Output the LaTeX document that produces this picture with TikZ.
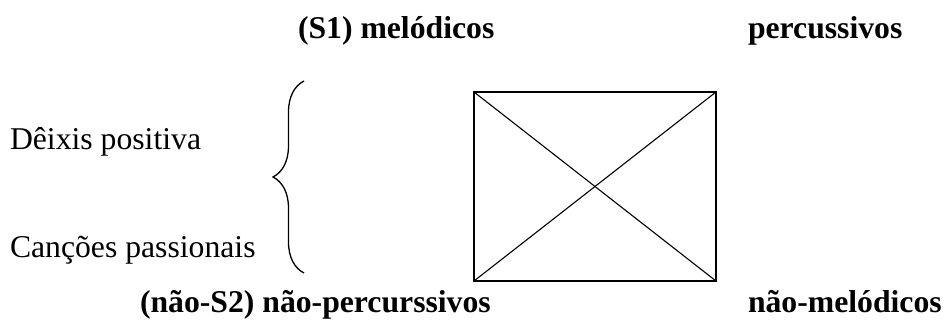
\documentclass[tikz,border=0pt]{standalone}
\usepackage{fontspec}
\setmainfont{Liberation Serif}
\usepackage{tikz}
\usetikzlibrary{positioning,decorations.pathreplacing}

\begin{document}
\begin{tikzpicture}[
  x=1pt, y=-1pt,
  every node/.style={inner sep=0pt, outer sep=0pt, font=\fontsize{31.7}{38}\selectfont},
  label/.style={anchor=base west},
  axis/.style={anchor=base west, font=\fontsize{31.7}{38}\selectfont\bfseries},
  square/.style={
    draw, line width=1.4pt, rectangle,
    minimum width=242pt, minimum height=189pt
  },
  diagonal/.style={line width=1.1pt},
  curly/.style={decorate, decoration={brace, amplitude=31pt}, line width=1.3pt}
]
\useasboundingbox (0,0) rectangle (946,323);

% --- Top terms ---
\node[axis] (s1) at (298,39) {(S1) melódicos};
\node[axis] (perc) at (748,39) {percussivos};

% --- Left side ---
\node[label] (deixis) at (10,150) {Dêixis positiva};
\node[label] (cancoes) at (10,258) {Canções passionais};

\coordinate (braceBot) at (304,273);
\coordinate (braceTop) at (304,81);
\draw[curly] (braceBot) -- (braceTop);

% --- Square ---
\node[square] (box) at (595,186.5) {};
\draw[diagonal] (box.north west) -- (box.south east);
\draw[diagonal] (box.north east) -- (box.south west);

% --- Bottom terms ---
\node[axis] (s2) at (140,313) {(não-S2) não-percurssivos};
\node[axis] (nmel) at (748,313) {não-melódicos};

\end{tikzpicture}
\end{document}
